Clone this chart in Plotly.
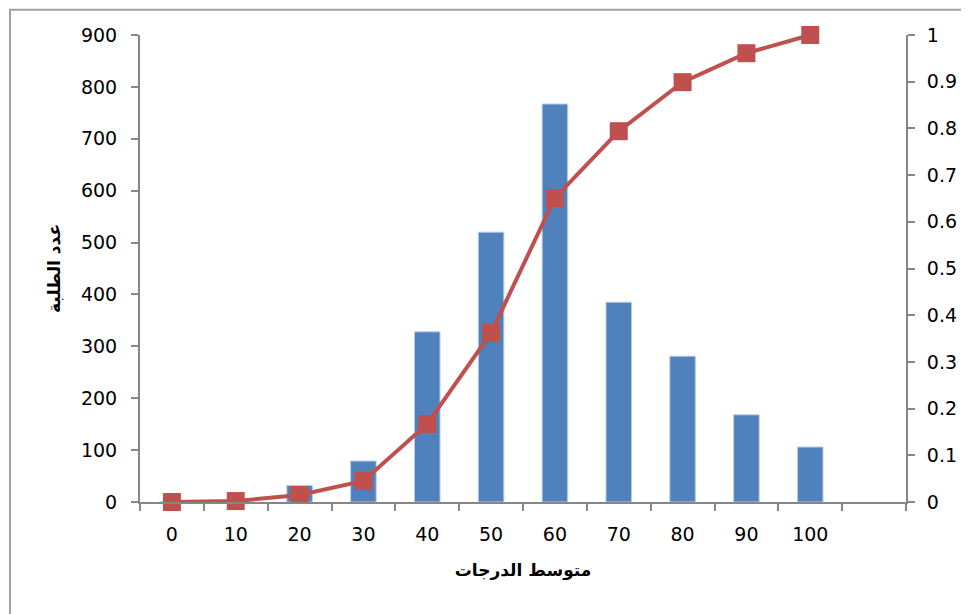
import plotly.graph_objects as go

grades = [0, 10, 20, 30, 40, 50, 60, 70, 80, 90, 100]
students = [0, 0, 32, 79, 328, 520, 767, 385, 281, 168, 106]
cumulative = [0, 0.002, 0.015, 0.045, 0.167, 0.362, 0.651, 0.794, 0.899, 0.961, 1.0]

bar_color = '#4F81BD'
line_color = '#C0504D'
axis_color = '#868686'
font = 'DejaVu Sans'

fig = go.Figure()

fig.add_trace(go.Bar(
    x = grades,
    y = students,
    width = 4,
    marker = dict(color = bar_color, line = dict(color = '#B9CDE5', width = 1)),
    yaxis = 'y'
))

fig.add_trace(go.Scatter(
    x = grades,
    y = cumulative,
    mode = 'lines+markers',
    line = dict(color = line_color, width = 4),
    marker = dict(symbol = 'square', size = 18, color = line_color),
    cliponaxis = False,
    yaxis = 'y2'
))

# page body has an 8px margin, so the figure is shrunk by 8px to fit the window
fig.update_layout(
    width = 961,
    height = 606,
    showlegend = False,
    plot_bgcolor = 'white',
    paper_bgcolor = 'white',
    margin = dict(l = 132, r = 63, t = 27, b = 112),
    font = dict(family = font, size = 19, color = 'black'),
    xaxis = dict(
        range = [-5, 115],
        tickvals = grades,
        ticktext = [str(g) for g in grades],
        ticks = '',
        ticklabelstandoff = 14,
        showline = True,
        linecolor = axis_color,
        linewidth = 2,
        showgrid = False,
        zeroline = False,
        minor = dict(tick0 = -5, dtick = 10, ticks = 'outside', ticklen = 7,
                     tickcolor = axis_color, tickwidth = 2, showgrid = False),
        title = dict(text = '<b>متوسط الدرجات</b>', font = dict(size = 17), standoff = 20)
    ),
    yaxis = dict(
        range = [0, 900],
        dtick = 100,
        ticks = 'outside',
        ticklen = 7,
        tickcolor = axis_color,
        tickwidth = 2,
        ticklabelstandoff = 10,
        showline = True,
        linecolor = axis_color,
        linewidth = 2,
        showgrid = False,
        zeroline = False,
        title = dict(text = '<b>عدد الطلبة</b>', font = dict(size = 17), standoff = 16)
    ),
    yaxis2 = dict(
        range = [0, 1],
        dtick = 0.1,
        overlaying = 'y',
        side = 'right',
        ticks = 'outside',
        ticklen = 7,
        tickcolor = axis_color,
        tickwidth = 2,
        ticklabelstandoff = 8,
        showline = True,
        linecolor = axis_color,
        linewidth = 2,
        showgrid = False,
        zeroline = False
    ),
    shapes = [
        dict(
            type = 'rect',
            xref = 'paper', yref = 'paper',
            x0 = -0.1697, x1 = 1.2,
            y0 = -0.3, y1 = 1.054,
            line = dict(color = '#A0A0A0', width = 2),
            fillcolor = 'rgba(0,0,0,0)',
            layer = 'below'
        )
    ]
)

fig.write_html('out.html')
